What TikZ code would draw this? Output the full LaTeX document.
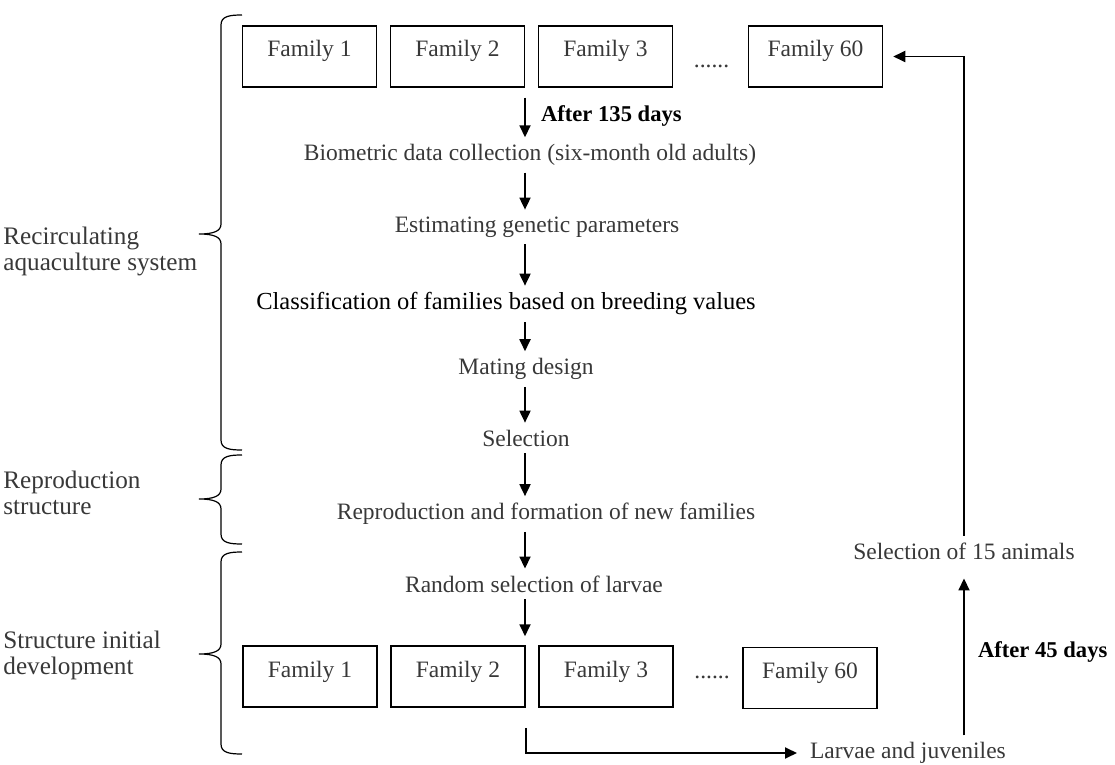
\documentclass[tikz,border=0pt]{standalone}
\usepackage{fontspec}
\setmainfont{Liberation Serif}
\usetikzlibrary{arrows.meta, positioning}

\definecolor{txtgray}{gray}{0.22}

\tikzset{
  fambox/.style={draw, line width=0.75pt, minimum width=67pt, minimum height=30.5pt,
    text height=8pt, text depth=7.5pt, inner sep=0pt, text=txtgray},
  steptext/.style={text=txtgray},
  daylabel/.style={font=\fontsize{11.3}{13}\selectfont\bfseries, anchor=west},
  sidelabel/.style={text=txtgray, align=left, anchor=west, inner sep=0pt,
    font=\fontsize{12.6}{13}\selectfont},
  flowarrow/.style={-{Triangle[length=6pt,width=5.5pt]}, line width=0.9pt},
  bracket/.style={line width=0.6pt}
}

\begin{document}
\begin{tikzpicture}[x=0.5pt, y=-0.5pt, on grid, node distance=74pt,
    font=\fontsize{11.75}{13}\selectfont]
   \useasboundingbox (0,0) rectangle (1115,765);

   % families in the recirculating system
   \node[fambox] (top1) at (309.5,56.5) {Family 1};
   \node[fambox] (top2) [right=of top1] {Family 2};
   \node[fambox] (top3) [right=of top2] {Family 3};
   \node[steptext, anchor=base] (topdots) at (711.5,68) {......};
   \node[fambox] (top60) at (815.5,56.5) {Family 60};

   % steps of the cycle
   \coordinate (spine) at (525,0);
   \node[steptext] (bio)   at (530,155) {Biometric data collection (six-month old adults)};
   \node[steptext] (est)   at (537,227) {Estimating genetic parameters};
   \node[font=\fontsize{12.25}{14}\selectfont] (cls) at (506,304) {Classification of families based on breeding values};
   \node[steptext] (mate)  at (526,369) {Mating design};
   \node[steptext] (sel)   at (526,438) {Selection};
   \node[steptext] (repro) at (546,514) {Reproduction and formation of new families};
   \node[steptext] (rand)  at (534,584) {Random selection of larvae};

   % families in the initial development
   \node[fambox] (bot1) at (310,676.5) {Family 1};
   \node[fambox] (bot2) [right=of bot1] {Family 2};
   \node[fambox] (bot3) [right=of bot2] {Family 3};
   \node[steptext, anchor=base] (botdots) at (712,678) {......};
   \node[fambox] (bot60) at (810,678) {Family 60};

   \draw[flowarrow, shorten <=5pt] (top2.south -| spine) -- (bio.north -| spine);
   \node[daylabel] (d135) at (534,116) {After 135 days};
   \draw[flowarrow] (bio.south -| spine) -- (est.north -| spine);
   \draw[flowarrow] (est.south -| spine) -- (cls.north -| spine);
   \draw[flowarrow] (cls.south -| spine) -- (mate.north -| spine);
   \draw[flowarrow] (mate.south -| spine) -- (sel.north -| spine);
   \draw[flowarrow] (sel.south -| spine) -- (repro.north -| spine);
   \draw[flowarrow] (repro.south -| spine) -- (rand.north -| spine);
   \draw[flowarrow, shorten >=4.5pt] (rand.south -| spine) -- (bot2.north -| spine);

   % way back
   \node[steptext] (sel15) at (964,551) {Selection of 15 animals};
   \node[daylabel] (d45) at (971,652) {After 45 days};
   \node[steptext, anchor=west] (larv) at (803,753) {Larvae and juveniles};
   \coordinate (lbend) at ([yshift=-10pt]bot2.south east);
   \draw[flowarrow, shorten >=3pt] (lbend) |- (larv.west);
   \draw[flowarrow, shorten >=6pt] (larv.north -| sel15) -- (sel15.south);
   \draw[flowarrow, shorten >=5pt] (sel15.north) |- (top60.east);

   % structures on the left
   \node[sidelabel] (recirc)  at (3,251) {Recirculating\\aquaculture system};
   \node[sidelabel] (reprost) at (3,493) {Reproduction\\structure};
   \node[sidelabel] (initdev) at (3,655) {Structure initial\\development};
   \foreach \t/\m/\b in {15/234/450, 455/499/544, 552/654/754}
     \draw[bracket] (242,\t) .. controls (230,\t) and (221,\t+1) .. (221,\t+10)
       -- (221,\m-10) .. controls (221,\m-3) and (214,\m) .. (199,\m)
       .. controls (214,\m) and (221,\m+3) .. (221,\m+10)
       -- (221,\b-10) .. controls (221,\b-1) and (230,\b) .. (242,\b);
\end{tikzpicture}
\end{document}
